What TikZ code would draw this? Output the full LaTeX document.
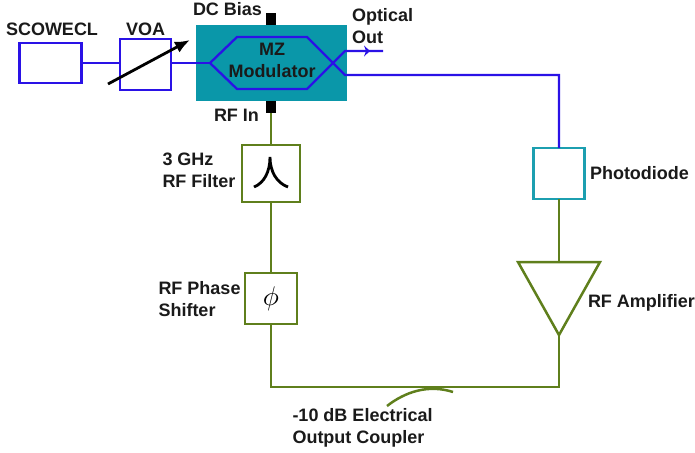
\documentclass[tikz,border=0pt]{standalone}
\usepackage{fontspec}
\usepackage{graphicx}
\setmainfont{Liberation Sans}
\usetikzlibrary{shapes.geometric,arrows.meta}
\definecolor{optblue}{HTML}{2A12E6}
\definecolor{rfgreen}{HTML}{5F7F1C}
\definecolor{modteal}{HTML}{0A97A9}
\definecolor{pdteal}{HTML}{1C9FB0}
\definecolor{labelblack}{HTML}{1A1A1A}

\begin{document}
\begin{tikzpicture}[x=1pt,y=-1pt,every node/.style={inner sep=0pt,outer sep=0pt},optbox/.style={draw=optblue,line width=2.3pt,fill=white},rfbox/.style={draw=rfgreen,line width=2.5pt,fill=white},optline/.style={draw=optblue,line width=2.3pt},rfline/.style={draw=rfgreen,line width=2.5pt},pad/.style={fill=black,minimum width=10pt,minimum height=12pt},lbl/.style={font=\fontsize{18}{21.5}\selectfont\bfseries,text=labelblack,align=left}]
\node[fill=modteal,minimum width=151pt,minimum height=76pt] (mz) at (271.5,63) {};
\node[optbox,minimum width=62pt,minimum height=40pt] (scowecl) at (50.5,63) {};
\node[optbox,minimum width=51pt,minimum height=51pt] (voa) at (145.5,64.5) {};
\node[pad] (dcpad) at (271,19) {};
\node[pad] (rfpad) at (271,107) {};
\node[rfbox,minimum width=58pt,minimum height=57pt] (filter) at (271,173.5) {};
\node[rfbox,minimum width=52pt,minimum height=51pt] (phase) at (271,298.5) {\scalebox{2.7}{$\phi$}};
\node[draw=pdteal,line width=2.3pt,fill=white,minimum width=51pt,minimum height=51pt] (pd) at (559,173.5) {};
\node[draw=rfgreen,line width=2.5pt,isosceles triangle,isosceles triangle stretches,shape border rotate=-90,minimum width=82pt,minimum height=73pt,anchor=apex] (amp) at (559,335) {};
\coordinate (split) at (210,63);
\coordinate (uparm) at (237,37);
\coordinate (upend) at (307,37);
\coordinate (loarm) at (237,89);
\coordinate (loend) at (307,89);
\coordinate (outup) at (345,51);
\coordinate (outlo) at (345,75);
\coordinate (optout) at (383,51);
\coordinate (pdin) at (559,75);
\coordinate (corner) at (271,387);
\coordinate (cornerb) at (559,387);
% optical path
\draw[optline] (scowecl.east) -- (scowecl.east -| voa.west);
\draw[optline] (voa.east |- split) -- (split);
\draw[optline] (split) -- (uparm) -- (upend) -- (outlo) -- (pdin) -- (pd.north);
\draw[optline] (split) -- (loarm) -- (loend) -- (outup) -- (optout);
\fill[optblue] (370,51) -- (364,45.5) -- (366,51) -- (364,56.5) -- cycle;
\draw[-{Latex[length=15pt,width=12pt]},line width=2.8pt,black] (108,84) -- (190,40);
% rf path
\draw[rfline] (rfpad.south) -- (filter.north);
\draw[rfline] (filter.south) -- (phase.north);
\draw[rfline] (phase.south) -- (corner) -- (cornerb) -- (amp.apex);
\draw[rfline] (pd.south) -- (559,262);
\draw[rfline] (387,406) .. controls (405,392) and (428,384) .. (453,392);
\draw[line width=2.8pt,black] (254,187) .. controls (264,183) and (270,172) .. (270,157) .. controls (270,172) and (277,183) .. (288,187);
\node[lbl,anchor=base west] (scoweclText) at (6,35) {SCOWECL};
\node[lbl,anchor=base west] (voaText) at (126,35) {VOA};
\node[lbl,anchor=base west] (dcText) at (193,15) {DC Bias};
\node[lbl,anchor=base west] (rfinText) at (214,121) {RF In};
\node[lbl,anchor=base,align=center] (mzText) at (272,77) {MZ\\Modulator};
\node[lbl,anchor=base west] (optText) at (352,43) {Optical\\Out};
\node[lbl,anchor=base west] (filterText) at (162.5,187) {3 GHz\\RF Filter};
\node[lbl,anchor=base west] (phaseText) at (158.5,316) {RF Phase\\Shifter};
\node[lbl,anchor=base west] (pdText) at (590,179) {Photodiode};
\node[lbl,anchor=base west] (ampText) at (588,307) {RF Amplifier};
\node[lbl,anchor=base west] (couplerText) at (292.5,443) {-10 dB Electrical\\Output Coupler};
\useasboundingbox (0,0) rectangle (695,453);
\end{tikzpicture}
\end{document}
